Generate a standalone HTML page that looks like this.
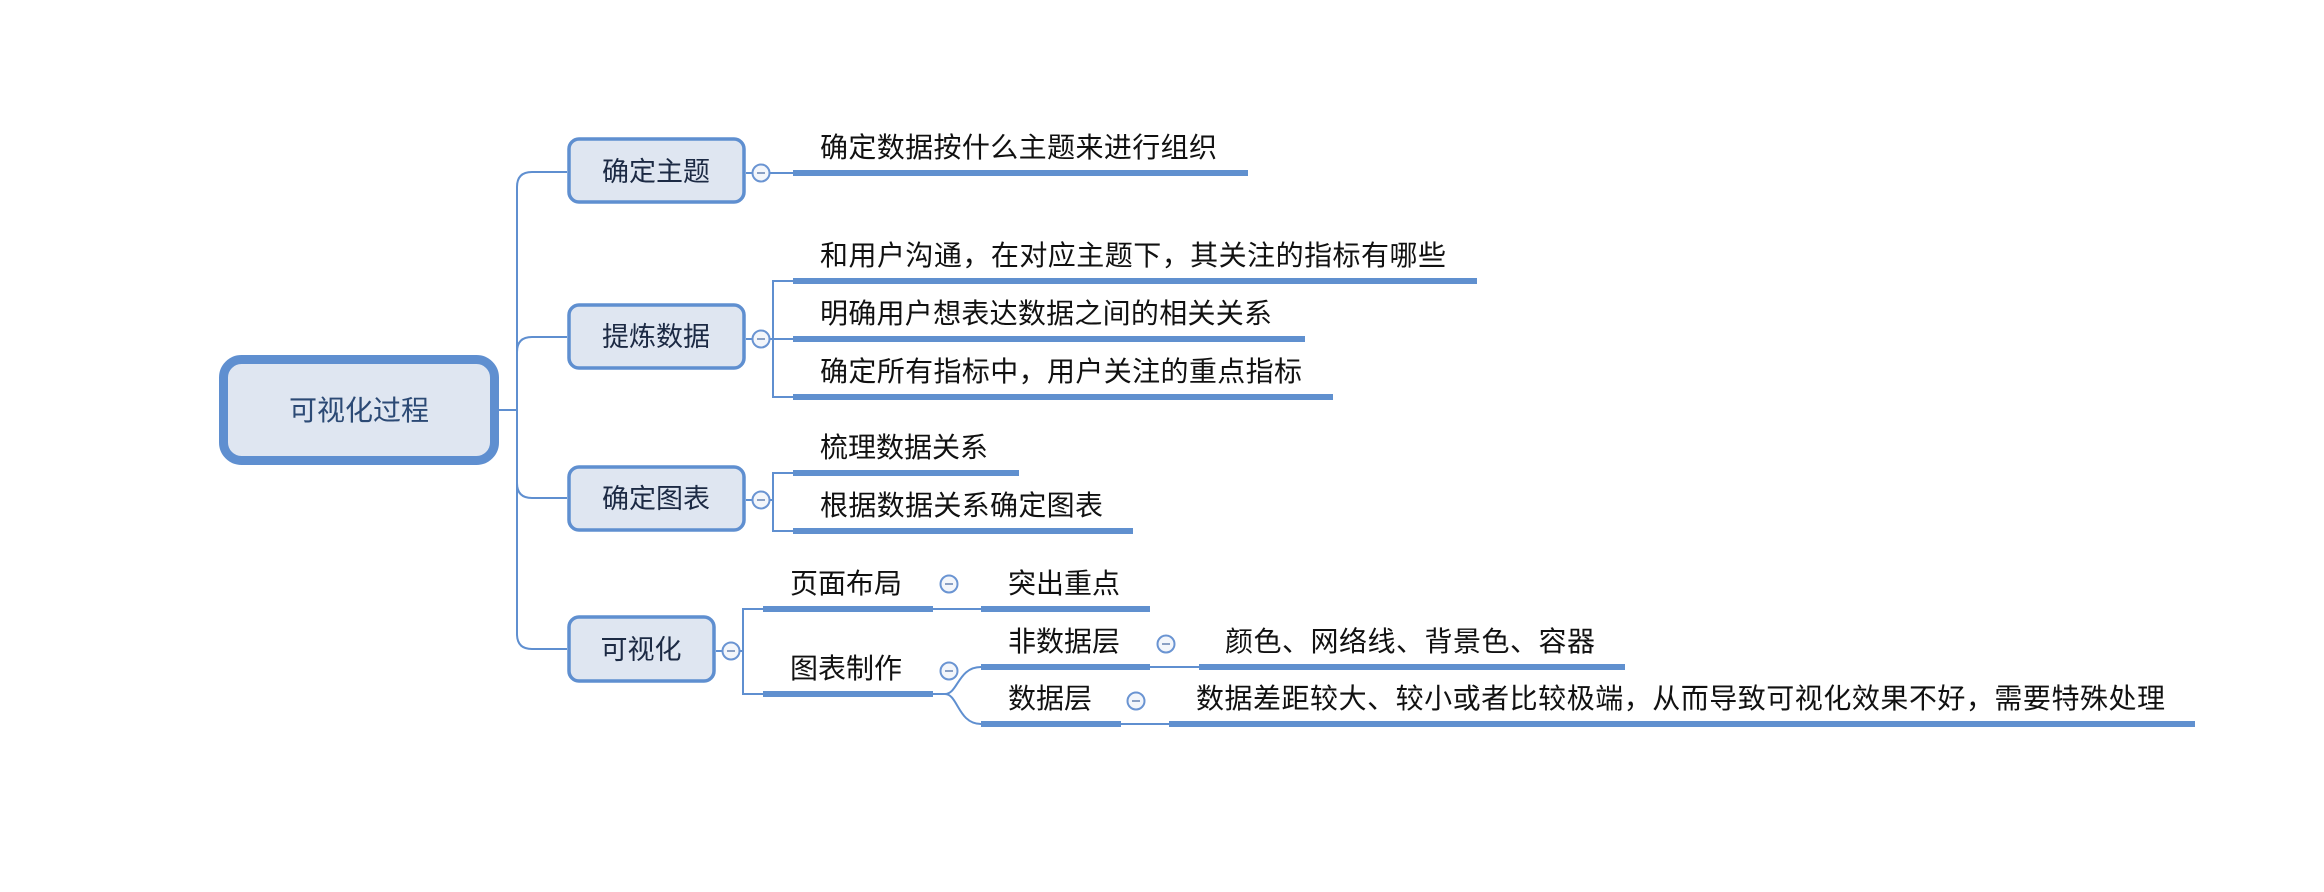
<!DOCTYPE html>
<html><head><meta charset="utf-8"><style>
html,body{margin:0;padding:0;background:#fff;}
svg{display:block;}
text{font-family:"Liberation Sans","Noto Sans CJK SC",sans-serif;}
</style></head><body>
<svg width="2324" height="892" viewBox="0 0 2324 892" xmlns="http://www.w3.org/2000/svg">
<g fill="none" stroke="#5f8fd0" stroke-width="2">
  <path d="M499,410 H517"/>
  <path d="M567,172 H532 Q517,172 517,187 V634 Q517,649 532,649 H567"/>
  <path d="M517,352 Q517,337 532,337 H567"/>
  <path d="M517,483 Q517,498 532,498 H567"/>
  <path d="M746,173 H793"/>
  <path d="M746,339 H773 M793,281 H773 V397 H793 M773,339 H793"/>
  <path d="M746,500 H773 M793,473 H773 V531 H793"/>
  <path d="M716,651 H743 M763,609 H743 V694 H763"/>
  <path d="M933,609 H981"/>
  <path d="M933,694 H945 C958,694 958,667 981,667"/>
  <path d="M945,694 C958,694 958,724 981,724"/>
  <path d="M1150,667 H1199"/>
  <path d="M1121,724 H1169"/>
</g>
<g stroke="#6090cf" stroke-width="6">
  <path d="M793,173 H1248"/>
  <path d="M793,281 H1477"/>
  <path d="M793,339 H1305"/>
  <path d="M793,397 H1333"/>
  <path d="M793,473 H1019"/>
  <path d="M793,531 H1133"/>
  <path d="M763,609 H933"/>
  <path d="M763,694 H933"/>
  <path d="M981,609 H1150"/>
  <path d="M981,667 H1150"/>
  <path d="M981,724 H1121"/>
  <path d="M1199,667 H1625"/>
  <path d="M1169,724 H2195"/>
</g>
<rect x="223.5" y="359.5" width="271" height="101" rx="18" fill="#dfe6f1" stroke="#5f8fd0" stroke-width="9"/>
<text x="359" y="420" font-size="28" fill="#2c4a75" text-anchor="middle" textLength="140">可视化过程</text>
<g fill="#dfe6f1" stroke="#5f8fd0" stroke-width="3.5">
  <rect x="569" y="139" width="175" height="63" rx="10"/>
  <rect x="569" y="305" width="175" height="63" rx="10"/>
  <rect x="569" y="467" width="175" height="63" rx="10"/>
  <rect x="569" y="617" width="145" height="64" rx="10"/>
</g>
<g font-size="27" fill="#1c2a44" text-anchor="middle">
  <text x="656" y="181">确定主题</text>
  <text x="656" y="346">提炼数据</text>
  <text x="656" y="508">确定图表</text>
  <text x="641" y="659">可视化</text>
</g>
<g fill="#f3f6fb" stroke="#6a94d2" stroke-width="2">
  <circle cx="761" cy="173" r="8.5"/>
  <circle cx="761" cy="339" r="8.5"/>
  <circle cx="761" cy="500" r="8.5"/>
  <circle cx="731" cy="651" r="8.5"/>
  <circle cx="949" cy="584" r="8.5"/>
  <circle cx="949" cy="671" r="8.5"/>
  <circle cx="1166" cy="644" r="8.5"/>
  <circle cx="1136" cy="701" r="8.5"/>
</g>
<g stroke="#8aa0c4" stroke-width="2">
  <path d="M757,173 H765 M757,339 H765 M757,500 H765 M727,651 H735 M945,584 H953 M945,671 H953 M1162,644 H1170 M1132,701 H1140"/>
</g>
<g font-size="28" fill="#111">
  <text x="820" y="157" textLength="397">确定数据按什么主题来进行组织</text>
  <text x="820" y="265" textLength="626">和用户沟通，在对应主题下，其关注的指标有哪些</text>
  <text x="820" y="323" textLength="452">明确用户想表达数据之间的相关关系</text>
  <text x="820" y="381" textLength="482">确定所有指标中，用户关注的重点指标</text>
  <text x="820" y="457" textLength="168">梳理数据关系</text>
  <text x="820" y="515" textLength="283">根据数据关系确定图表</text>
  <text x="790" y="593" textLength="112">页面布局</text>
  <text x="790" y="678" textLength="112">图表制作</text>
  <text x="1008" y="593" textLength="112">突出重点</text>
  <text x="1008" y="651" textLength="112">非数据层</text>
  <text x="1008" y="708" textLength="84">数据层</text>
  <text x="1225" y="651" textLength="370">颜色、网络线、背景色、容器</text>
  <text x="1196" y="708" textLength="969">数据差距较大、较小或者比较极端，从而导致可视化效果不好，需要特殊处理</text>
</g>
</svg>
</body></html>
